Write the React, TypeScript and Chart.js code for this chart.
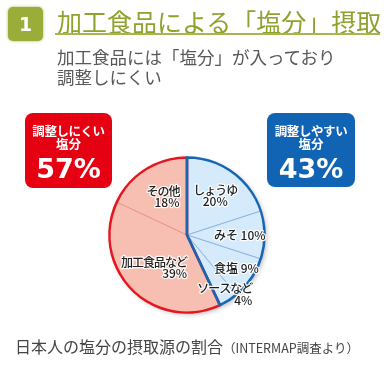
import React, { useEffect, useRef } from "react";
import { Chart, registerables } from "chart.js";

Chart.register(...registerables);

const categories = ["しょうゆ", "みそ", "食塩", "ソースなど", "加工食品など", "その他"];
const values = [20, 10, 9, 4, 39, 18];
const groups = ["easy", "easy", "easy", "easy", "hard", "hard"];
const groupTotals = { hard: 57, easy: 43 };

const FONT = "'Noto Sans CJK JP', 'Noto Sans', sans-serif";
const BLUE_FILL = "#d5eafa";
const BLUE_LINE = "#1766b4";
const BLUE_DIV = "#92b6e2";
const RED_FILL = "#f6bfb1";
const RED_LINE = "#e5161f";
const RED_DIV = "#ee958b";

// label placement style (radius fraction, alignment, single line)
const labelStyle = [
  { frac: 0.62, align: "center", single: false },
  { frac: 0.68, align: "center", single: true },
  { frac: 0.77, align: "center", single: true },
  { frac: 0.91, align: "right", single: false },
  { frac: 0.6, align: "right", single: false },
  { frac: 0.58, align: "right", single: false },
];

const shadowPlugin = {
  id: "pieShadow",
  beforeDatasetsDraw(chart: any) {
    const meta = chart.getDatasetMeta(0);
    const a = meta.data[0];
    if (!a) return;
    const ctx = chart.ctx;
    ctx.save();
    ctx.shadowColor = "rgba(0,0,0,0.28)";
    ctx.shadowBlur = 5;
    ctx.shadowOffsetX = 2;
    ctx.shadowOffsetY = 2;
    ctx.fillStyle = "#ffffff";
    ctx.beginPath();
    ctx.arc(a.x, a.y, a.outerRadius, 0, Math.PI * 2);
    ctx.fill();
    ctx.restore();
  },
};

const outlinePlugin = {
  id: "groupOutline",
  afterDatasetsDraw(chart: any) {
    const meta = chart.getDatasetMeta(0);
    const arcs = meta.data;
    const ctx = chart.ctx;
    const drawGroup = (g: string, color: string) => {
      const idx = groups.map((x, i) => (x === g ? i : -1)).filter((i) => i >= 0);
      const first = arcs[idx[0]];
      const last = arcs[idx[idx.length - 1]];
      const cx = first.x, cy = first.y, r = first.outerRadius;
      ctx.save();
      ctx.strokeStyle = color;
      ctx.lineWidth = 2.6;
      ctx.lineJoin = "round";
      ctx.beginPath();
      ctx.moveTo(cx, cy);
      ctx.lineTo(cx + r * Math.cos(first.startAngle), cy + r * Math.sin(first.startAngle));
      ctx.arc(cx, cy, r, first.startAngle, last.endAngle);
      ctx.closePath();
      ctx.stroke();
      ctx.restore();
    };
    drawGroup("hard", RED_LINE);
    drawGroup("easy", BLUE_LINE);

    // labels
    ctx.save();
    ctx.textBaseline = "middle";
    ctx.fillStyle = "#1e1e1e";
    ctx.strokeStyle = "rgba(255,255,255,0.9)";
    ctx.lineWidth = 2.5;
    ctx.lineJoin = "round";
    const setFont = (isName: boolean) => {
      ctx.font = `500 12px ${FONT}`;
      try { (ctx as any).letterSpacing = isName ? "-1px" : "0px"; } catch (e) {}
    };
    arcs.forEach((a: any, i: number) => {
      const st = labelStyle[i];
      const mid = (a.startAngle + a.endAngle) / 2;
      const px = a.x + a.outerRadius * st.frac * Math.cos(mid);
      const py = a.y + a.outerRadius * st.frac * Math.sin(mid);
      const lines = st.single
        ? [`${categories[i]} ${values[i]}%`]
        : [categories[i], `${values[i]}%`];
      const lh = 11.5;
      const widths = lines.map((l, k) => {
        setFont(k === 0 && !st.single);
        return ctx.measureText(l).width;
      });
      const maxW = Math.max(...widths);
      lines.forEach((l, k) => {
        setFont(k === 0 && !st.single);
        const y = py + (k - (lines.length - 1) / 2) * lh;
        let x = px;
        if (st.align === "right") {
          ctx.textAlign = "right";
          x = px + maxW / 2;
        } else {
          ctx.textAlign = "center";
        }
        ctx.strokeText(l, x, y);
        ctx.fillText(l, x, y);
      });
    });
    ctx.restore();
  },
};

const abs = (o: React.CSSProperties): React.CSSProperties => ({ position: "absolute", whiteSpace: "nowrap", ...o });

function Box({ left, top, w, h, bg, line1, total }: any) {
  return (
    <div style={abs({ left, top, width: w, height: h, background: bg, borderRadius: 8 })}>
      <div style={abs({ left: 0, width: w, top: 11, height: 14, lineHeight: "14px", textAlign: "center", color: "#fff", fontWeight: 700, fontSize: 12.5, fontFamily: FONT, letterSpacing: "-0.4px" })}>{line1}</div>
      <div style={abs({ left: 0, width: w, top: 24, height: 14, lineHeight: "14px", textAlign: "center", color: "#fff", fontWeight: 700, fontSize: 12.5, fontFamily: FONT })}>塩分</div>
      <div style={abs({ left: 0, width: w, top: 42, height: 28, lineHeight: "28px", textAlign: "center", color: "#fff", fontWeight: 700, fontSize: 27, fontFamily: "'DejaVu Sans', sans-serif" })}>{total}%</div>
    </div>
  );
}

export default function App() {
  const ref = useRef<HTMLCanvasElement>(null);
  useEffect(() => {
    const chart = new Chart(ref.current!, {
      type: "pie",
      data: {
        labels: categories,
        datasets: [
          {
            data: values,
            backgroundColor: groups.map((g) => (g === "easy" ? BLUE_FILL : RED_FILL)),
            borderColor: groups.map((g) => (g === "easy" ? BLUE_DIV : RED_DIV)),
            borderWidth: 1,
          },
        ],
      },
      options: {
        responsive: false,
        animation: false,
        layout: { padding: { left: 109, right: 120, top: 157, bottom: 57 } },
        plugins: { legend: { display: false }, tooltip: { enabled: false } },
      },
      plugins: [shadowPlugin, outlinePlugin],
    });
    return () => chart.destroy();
  }, []);

  return (
    <div style={{ position: "fixed", left: 0, top: 0, width: 385, height: 370, background: "#fff", overflow: "hidden" }}>
      <canvas ref={ref} width={385} height={370} style={{ position: "absolute", left: 0, top: 0 }} />
      <div style={abs({ left: 8, top: 7, width: 35, height: 34, borderRadius: 5, background: "#9aad39", boxShadow: "0 0 3px #a9b85a", color: "#fff", fontWeight: 700, fontSize: 19, lineHeight: "34px", textAlign: "center", fontFamily: "'DejaVu Sans', sans-serif" })}>1</div>
      <div style={abs({ left: 57, top: 8, height: 26, lineHeight: "26px", fontSize: 25, color: "#8fa22e", fontFamily: FONT })}>加工食品による「塩分」摂取</div>
      <div style={abs({ left: 55, top: 33, width: 325, height: 2, background: "#a6b54c" })} />
      <div style={abs({ left: 57, top: 47, lineHeight: "20px", fontSize: 17.5, color: "#595757", fontFamily: FONT })}>
        加工食品には「塩分」が入っており<br />調整しにくい
      </div>
      <Box left={25} top={113} w={87} h={75} bg="#e50012" line1="調整しにくい" total={groupTotals.hard} />
      <Box left={267} top={113} w={88} h={74} bg="#1164b4" line1="調整しやすい" total={groupTotals.easy} />
      <div style={abs({ left: 15, top: 336, height: 20, lineHeight: "20px", fontSize: 16, color: "#444", fontFamily: FONT })}>
        日本人の塩分の摂取源の割合<span style={{ fontSize: 12.5 }}>（INTERMAP調査より）</span>
      </div>
    </div>
  );
}
